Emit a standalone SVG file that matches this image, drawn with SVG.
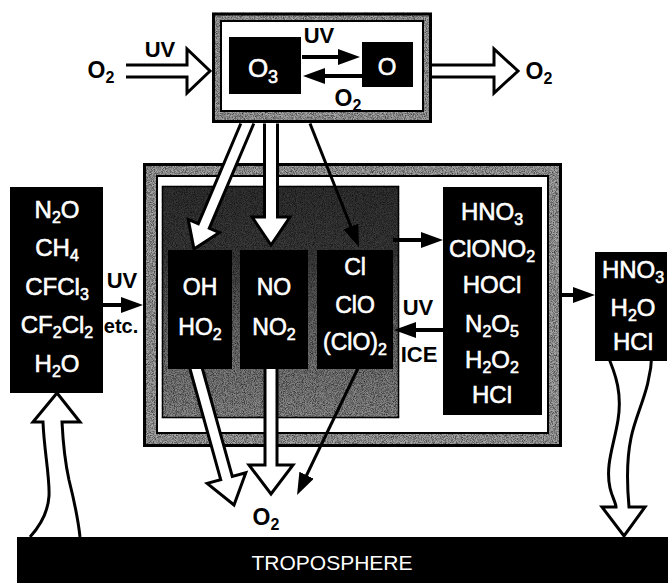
<svg xmlns="http://www.w3.org/2000/svg" width="668" height="583" viewBox="0 0 668 583">
<style>
.w{fill:#fff;stroke:#fff;stroke-width:0.6px;font-family:"Liberation Sans",Arial,Helvetica,sans-serif;font-size:24px;text-anchor:middle}
.wi{fill:#fff;stroke:#fff;stroke-width:0.6px;font-family:"Liberation Sans",Arial,Helvetica,sans-serif;font-size:23px;text-anchor:middle}
.tr{fill:#fff;font-family:"Liberation Sans",Arial,Helvetica,sans-serif;font-size:21px;text-anchor:middle}
.lb{fill:#000;font-family:"Liberation Sans",Arial,Helvetica,sans-serif;font-size:22px;font-weight:bold;text-anchor:middle}
.s{font-size:16px}
.box{fill:#000}
.hollow{fill:#fff;stroke:#000;stroke-width:3;stroke-linejoin:miter}
.thin{stroke:#000;stroke-width:3;fill:none}
.thick{stroke:#000;stroke-width:4;fill:none}
.band{fill:#a6a6a6;stroke:#000;stroke-width:3;filter:url(#grain)}
.inner{fill:#fff;stroke:#000;stroke-width:2}
</style>
<defs>
<marker id="ah" viewBox="0 0 22 16" refX="12" refY="8" markerWidth="22" markerHeight="16" markerUnits="userSpaceOnUse" orient="auto">
<path d="M0,0 L22,8 L0,16 z" fill="#000"/>
</marker>
<linearGradient id="dark" x1="0" y1="0" x2="0" y2="1">
<stop offset="0" stop-color="#333"/>
<stop offset="0.3" stop-color="#3c3c3c"/>
<stop offset="0.6" stop-color="#6a6a6a"/>
<stop offset="1" stop-color="#8e8e8e"/>
</linearGradient>
<filter id="grain" x="-2%" y="-2%" width="104%" height="104%" color-interpolation-filters="sRGB">
<feTurbulence type="fractalNoise" baseFrequency="1.1" numOctaves="2" seed="4" result="n"/>
<feColorMatrix in="n" type="matrix" values="0 0 0 0 0  0 0 0 0 0  0 0 0 0 0  1.4 0 0 0 -0.5" result="dots"/>
<feComposite in="dots" in2="SourceGraphic" operator="in" result="d2"/>
<feMerge><feMergeNode in="SourceGraphic"/><feMergeNode in="d2"/></feMerge>
</filter>
</defs>
<rect width="668" height="583" fill="#fff"/>

<g id="stratosphere-frame">
<rect class="band" x="144.5" y="164.5" width="416" height="281"/>
<rect class="inner" x="157" y="176" width="391" height="257"/>
<rect x="162.5" y="186.5" width="236" height="231" fill="url(#dark)" stroke="#000" stroke-width="1.5" filter="url(#grain)"/>
</g>

<g id="top-box">
<rect class="band" x="213.5" y="14" width="217" height="107.5"/>
<rect class="inner" x="221" y="21" width="202" height="90"/>
</g>
<g id="node-O3">
<rect class="box" x="229" y="37" width="72" height="57"/>
<text class="w" x="263" y="77" style="font-size:26px">O<tspan style="font-size:18px" dy="6">3</tspan></text>
</g>
<g id="node-O">
<rect class="box" x="362" y="42" width="51" height="45"/>
<text class="w" x="387" y="75">O</text>
</g>

<g id="connectors">
<path class="hollow" d="M240.8,123.5 L198.3,223.7 L188.2,219.4 L194,249 L219.4,232.6 L209.3,228.3 L253.8,123.5"/>
<path class="hollow" d="M264.5,123.5 L264.5,217 L252,217 L271,245 L290,217 L277.5,217 L277.5,123.5"/>
<line class="thin" x1="310" y1="123.5" x2="355.3" y2="237.7" marker-end="url(#ah)"/>
<path class="hollow" d="M187.5,360 L220.7,479.6 L207.2,483.3 L234,505 L245.8,472.7 L232.3,476.4 L199.1,356.8"/>
<path class="hollow" d="M265,360 L265,465 L249,465 L271,494 L293,465 L277,465 L277,360"/>
<line class="thin" x1="362" y1="360" x2="301.4" y2="486" marker-end="url(#ah)"/>
<path class="hollow" d="M126,65 L187,65 L187,49 L210,71 L187,93 L187,77 L126,77"/>
<path class="hollow" d="M432,65 L494,65 L494,49 L518,71 L494,93 L494,77 L432,77"/>
<line class="thick" x1="302" y1="57" x2="350" y2="57" marker-end="url(#ah)"/>
<line class="thick" x1="362" y1="76" x2="313" y2="76" marker-end="url(#ah)"/>
<line class="thick" x1="103" y1="305" x2="133" y2="305" marker-end="url(#ah)"/>
<line class="thick" x1="393" y1="240" x2="433" y2="240" marker-end="url(#ah)"/>
<line class="thick" x1="443" y1="330" x2="404" y2="330" marker-end="url(#ah)"/>
<line class="thick" x1="562" y1="295" x2="585" y2="295" marker-end="url(#ah)"/>
<path class="hollow" d="M30,537 C40,526 48,512 49,496 C50,478 44,450 43,422 L33,422 L57,393 L80,422 L62,422 C63,442 65,462 69,480 C74,500 78,518 80,537"/>
<path class="hollow" d="M606,352 C617,376 622,395 618,420 C614,445 605,465 610,488 C612,497 616,503 616,507 L602,507 L624,536 L645,507 L629,507 C627,485 626,462 631,438 C636,412 651,390 652,352"/>
</g>

<g id="node-sources">
<rect class="box" x="10" y="187" width="93" height="206"/>
<text class="w" x="57" y="218">N<tspan class="s" dy="5">2</tspan><tspan dy="-5">O</tspan></text>
<text class="w" x="57" y="256">CH<tspan class="s" dy="5">4</tspan></text>
<text class="w" x="57" y="295">CFCl<tspan class="s" dy="5">3</tspan></text>
<text class="w" x="57" y="333">CF<tspan class="s" dy="5">2</tspan><tspan dy="-5">Cl</tspan><tspan class="s" dy="5">2</tspan></text>
<text class="w" x="57" y="372">H<tspan class="s" dy="5">2</tspan><tspan dy="-5">O</tspan></text>
</g>
<g id="node-HOx">
<rect class="box" x="168" y="250" width="64" height="119"/>
<text class="wi" x="200" y="295">OH</text>
<text class="wi" x="200" y="335">HO<tspan class="s" dy="5">2</tspan></text>
</g>
<g id="node-NOx">
<rect class="box" x="240" y="250" width="68" height="119"/>
<text class="wi" x="274" y="295">NO</text>
<text class="wi" x="274" y="335">NO<tspan class="s" dy="5">2</tspan></text>
</g>
<g id="node-ClOx">
<rect class="box" x="317" y="250" width="76" height="119"/>
<text class="wi" x="355" y="275">Cl</text>
<text class="wi" x="355" y="313">ClO</text>
<text class="wi" x="355" y="350">(ClO)<tspan class="s" dy="5">2</tspan></text>
</g>
<g id="node-reservoirs">
<rect class="box" x="443" y="187" width="99" height="228"/>
<text class="w" x="492" y="220">HNO<tspan class="s" dy="5">3</tspan></text>
<text class="w" x="492" y="257">ClONO<tspan class="s" dy="5">2</tspan></text>
<text class="w" x="492" y="293">HOCl</text>
<text class="w" x="492" y="332">N<tspan class="s" dy="5">2</tspan><tspan dy="-5">O</tspan><tspan class="s" dy="5">5</tspan></text>
<text class="w" x="492" y="368">H<tspan class="s" dy="5">2</tspan><tspan dy="-5">O</tspan><tspan class="s" dy="5">2</tspan></text>
<text class="w" x="492" y="403">HCl</text>
</g>
<g id="node-sinks">
<rect class="box" x="595" y="252" width="72" height="109"/>
<text class="w" x="633" y="278">HNO<tspan class="s" dy="5">3</tspan></text>
<text class="w" x="633" y="316">H<tspan class="s" dy="5">2</tspan><tspan dy="-5">O</tspan></text>
<text class="w" x="633" y="350">HCl</text>
</g>
<g id="node-troposphere">
<rect class="box" x="17" y="537" width="651" height="46"/>
<text class="tr" x="332" y="570">TROPOSPHERE</text>
</g>

<g id="labels">
<text class="lb" x="101" y="78" style="font-size:23px">O<tspan class="s" dy="5">2</tspan></text>
<text class="lb" x="160" y="57">UV</text>
<text class="lb" x="319" y="43">UV</text>
<text class="lb" x="348" y="106" style="font-size:23px">O<tspan class="s" dy="5">2</tspan></text>
<text class="lb" x="539" y="79" style="font-size:23px">O<tspan class="s" dy="5">2</tspan></text>
<text class="lb" x="122" y="288">UV</text>
<text class="lb" x="121" y="333" style="font-size:20px">etc.</text>
<text class="lb" x="418" y="315">UV</text>
<text class="lb" x="419" y="362">ICE</text>
<text class="lb" x="266" y="525" style="font-size:23px">O<tspan class="s" dy="5">2</tspan></text>
</g>
</svg>
